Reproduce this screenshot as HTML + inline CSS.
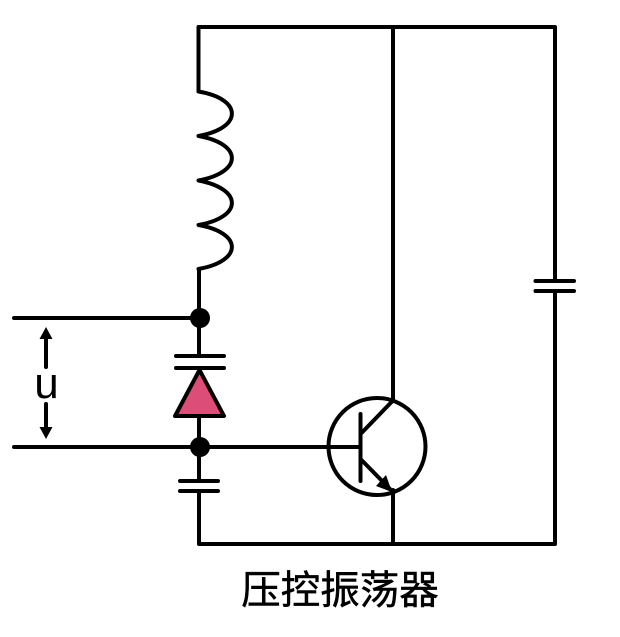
<!DOCTYPE html>
<html><head><meta charset="utf-8"><style>
html,body{margin:0;padding:0;background:#fff}
svg{display:block}
</style></head><body>
<svg width="620" height="637" viewBox="0 0 620 637" xmlns="http://www.w3.org/2000/svg">
<rect width="620" height="637" fill="#fff"/>
<g fill="none" stroke="#000" stroke-width="4" stroke-linecap="round" stroke-linejoin="round">
<path d="M198.5 91V27H555V281M555 291V544H199V491M199 481V416M199 356V269"/>
<path d="M393 27V401M393 490V544"/>
<path d="M198.5 91.500C243 99 243 128 198.500 136C243 144 243 172 198.500 180.500C243 189 243 217 198.500 225C243 233 243 261 198.500 269"/>
<path d="M14 318H200M14 447H360"/>
<path d="M176 356H224M176 368H224M180 481H218M180 491H218M535.500 281H574M535.500 291H574"/>
<path d="M199.500 370L224 416H175Z" fill="#dc4e78"/>
<circle cx="377" cy="446.500" r="48.500"/>
<path d="M360.500 414V481M361.500 433L392 401.500M361.500 460L390 489"/>
<path d="M46 338V367M46 404V428"/>
</g>
<circle cx="200" cy="318" r="10"/>
<circle cx="200" cy="447" r="10"/>
<path d="M392 492L376 486L386 475Z" fill="#000"/>
<path d="M46 327L52.500 339H39.500Z" fill="#000"/>
<path d="M46 439L52.500 427H39.500Z" fill="#000"/>
<text x="46.500" y="398" text-anchor="middle" font-family="'Liberation Sans',sans-serif" font-size="44" fill="#000">u</text>
<text x="340" y="604" text-anchor="middle" font-family="'Liberation Sans','Noto Sans CJK SC',sans-serif" font-size="39.500" fill="#000" stroke="#000" stroke-width="0.500">压控振荡器</text>
</svg>
</body></html>
